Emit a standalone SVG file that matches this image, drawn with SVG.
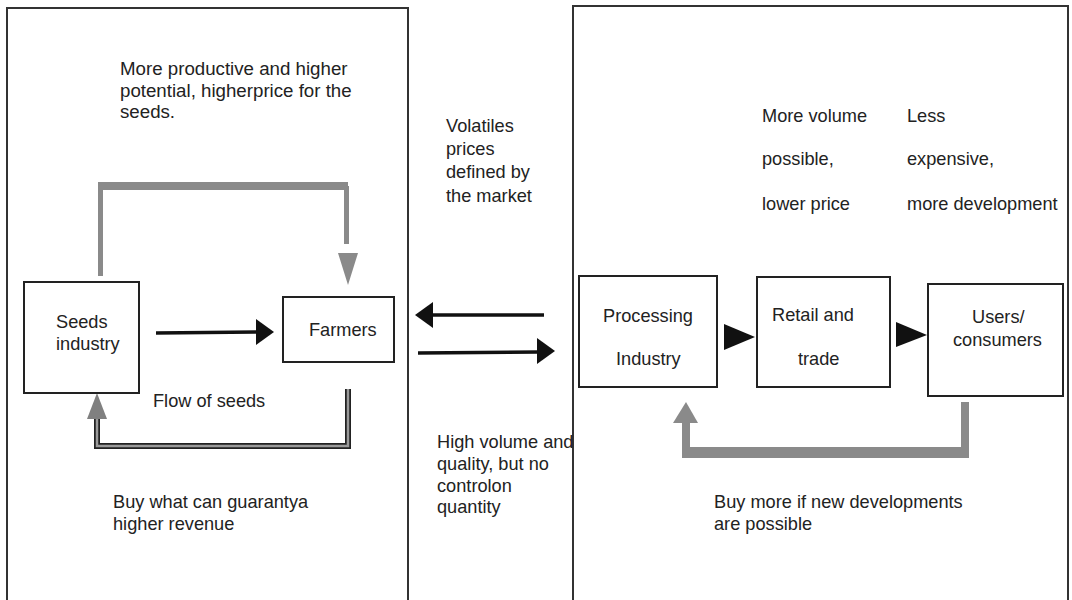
<svg xmlns="http://www.w3.org/2000/svg" width="1072" height="600" viewBox="0 0 1072 600">
<style>
text{font-family:"Liberation Sans",Arial,sans-serif;font-size:18.2px;fill:#222}
.big{font-size:18.7px}
.panel{fill:none;stroke:#333;stroke-width:2}
.box{fill:#fff;stroke:#222;stroke-width:2}
.blk{stroke:#111;stroke-width:3.5;fill:none}
.gr{fill:#8a8a8a}
</style>
<rect width="1072" height="600" fill="#fff"/>
<g id="panel-left"><rect class="panel" x="7" y="8" width="401" height="596"/></g>
<g id="panel-right"><rect class="panel" x="573" y="6" width="495" height="598"/></g>

<g id="connectors">
  <!-- top gray loop -->
  <rect class="gr" x="98" y="182" width="250" height="8"/>
  <rect class="gr" x="98" y="186" width="5" height="90"/>
  <rect class="gr" x="344" y="186" width="5" height="58"/>
  <polygon class="gr" points="338,253 358,253 348,285"/>
  <!-- seeds to farmers -->
  <line class="blk" x1="156" y1="333" x2="258" y2="332"/>
  <polygon fill="#111" points="256,319 274,332 256,345"/>
  <!-- bottom return -->
  <path d="M348,389 V446 H97 V419" fill="none" stroke="#222" stroke-width="6"/>
  <path d="M348,389 V446 H97 V419" fill="none" stroke="#9a9a9a" stroke-width="2.5"/>
  <polygon fill="#808080" points="87,419 107,419 97,393"/>
  <!-- middle arrows -->
  <line class="blk" x1="431" y1="315" x2="544" y2="315" stroke-width="4"/>
  <polygon fill="#111" points="433,302 415,315 433,328"/>
  <line class="blk" x1="418" y1="353" x2="539" y2="352" stroke-width="4"/>
  <polygon fill="#111" points="537,338 555,351 537,364"/>
  <!-- right chain -->
  <polygon fill="#111" points="724,324 755,337 724,350"/>
  <polygon fill="#111" points="896,322 927,335 896,347"/>
  <!-- right feedback -->
  <rect class="gr" x="682" y="447" width="287" height="11"/>
  <rect class="gr" x="961" y="402" width="8" height="52"/>
  <rect class="gr" x="682" y="421" width="8" height="33"/>
  <polygon class="gr" points="673,423 698,423 686,402"/>
</g>

<g id="seeds">
  <rect class="box" x="24" y="282" width="115" height="111"/>
  <text x="56" y="328">Seeds</text>
  <text x="56" y="350">industry</text>
</g>
<g id="farmers">
  <rect class="box" x="283" y="297" width="111" height="65"/>
  <text x="309" y="336">Farmers</text>
</g>
<g id="processing">
  <rect class="box" x="579" y="276" width="138" height="111"/>
  <text x="603" y="322">Processing</text>
  <text x="616" y="365">Industry</text>
</g>
<g id="retail">
  <rect class="box" x="757" y="277" width="133" height="110"/>
  <text x="772" y="321">Retail and</text>
  <text x="798" y="365">trade</text>
</g>
<g id="users">
  <rect class="box" x="928" y="284" width="135" height="112"/>
  <text x="972" y="323">Users/</text>
  <text x="953" y="346">consumers</text>
</g>

<g id="labels">
  <text class="big" x="120" y="75">More productive and higher</text>
  <text class="big" x="120" y="97">potential, higherprice for the</text>
  <text class="big" x="120" y="118">seeds.</text>
  <text x="446" y="132">Volatiles</text>
  <text x="446" y="155">prices</text>
  <text x="446" y="178">defined by</text>
  <text x="446" y="202">the market</text>
  <text x="762" y="122">More volume</text>
  <text x="762" y="165">possible,</text>
  <text x="762" y="210">lower price</text>
  <text x="907" y="122">Less</text>
  <text x="907" y="165">expensive,</text>
  <text x="907" y="210">more development</text>
  <text x="153" y="407">Flow of seeds</text>
  <text x="437" y="448">High volume and</text>
  <text x="437" y="470">quality, but no</text>
  <text x="437" y="492">controlon</text>
  <text x="437" y="513">quantity</text>
  <text x="113" y="508">Buy what can guarantya</text>
  <text x="113" y="530">higher revenue</text>
  <text x="714" y="508">Buy more if new developments</text>
  <text x="714" y="530">are possible</text>
</g>
</svg>
